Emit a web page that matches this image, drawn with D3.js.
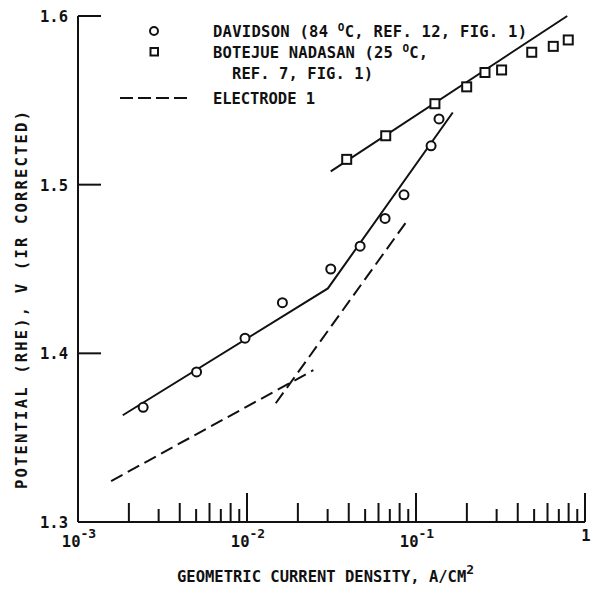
<!DOCTYPE html>
<html>
<head>
<meta charset="utf-8">
<script src="https://cdn.jsdelivr.net/npm/d3@7"></script>
<style>
  body { margin: 0; background: #fff; }
  text { font-family: "DejaVu Sans Mono", monospace; font-weight: bold; fill: #111; }
</style>
</head>
<body>
<div id="chart"></div>
<script>
// Davidson (84 C) points
var davidsonX = [0.00243, 0.00503, 0.00973, 0.0162, 0.0313, 0.0467, 0.0656, 0.0849, 0.1228, 0.1368];
var davidsonY = [1.368, 1.389, 1.409, 1.430, 1.450, 1.4635, 1.480, 1.494, 1.523, 1.539];
// Botejue Nadasan (25 C) points
var botejueX = [0.0389, 0.0662, 0.1294, 0.1995, 0.256, 0.321, 0.484, 0.649, 0.796];
var botejueY = [1.515, 1.529, 1.548, 1.558, 1.5665, 1.568, 1.5785, 1.582, 1.5858];
// fitted solid lines
var davidsonFitX = [0.00184, 0.0301, 0.165];
var davidsonFitY = [1.3633, 1.4385, 1.5428];
var botejueFitX = [0.0313, 0.785];
var botejueFitY = [1.5079, 1.6];
// electrode 1 (dashed), two tafel segments
var electrodeLowX = [0.00157, 0.0247];
var electrodeLowY = [1.3243, 1.39];
var electrodeHighX = [0.0148, 0.0873];
var electrodeHighY = [1.3704, 1.4777];

var yTicks = [1.3, 1.4, 1.5, 1.6];
var yTickLabels = ['1.3', '1.4', '1.5', '1.6'];
var xTicks = [0.001, 0.01, 0.1, 1];
var xTickExp = ['-3', '-2', '-1', ''];

var svg = d3.select('#chart').append('svg')
    .attr('width', 593)
    .attr('height', 589);

var x = d3.scaleLog().domain([0.001, 1]).range([78, 585]);
var y = d3.scaleLinear().domain([1.3, 1.6]).range([522, 16]);

function pairs(xs, ys) {
    return xs.map(function(v, i) { return [v, ys[i]]; });
}

var line = d3.line()
    .x(function(d) { return x(d[0]); })
    .y(function(d) { return y(d[1]); });

// axes
svg.append('line')
    .attr('x1', x(0.001)).attr('x2', x(0.001))
    .attr('y1', y(1.6)).attr('y2', y(1.3))
    .attr('stroke', '#111').attr('stroke-width', 2);
svg.append('line')
    .attr('x1', x(0.001)).attr('x2', x(1))
    .attr('y1', y(1.3)).attr('y2', y(1.3))
    .attr('stroke', '#111').attr('stroke-width', 2);

// y ticks, pointing inward
svg.selectAll('.ytick')
    .data(yTicks.slice(1))
    .enter().append('line')
    .attr('x1', x(0.001)).attr('x2', x(0.001) + 23)
    .attr('y1', function(d) { return y(d); })
    .attr('y2', function(d) { return y(d); })
    .attr('stroke', '#111').attr('stroke-width', 2);

svg.selectAll('.ylabel')
    .data(yTicks)
    .enter().append('text')
    .attr('x', 68)
    .attr('y', function(d) { return y(d) + 6; })
    .attr('text-anchor', 'end')
    .attr('font-size', 15.5)
    .text(function(d, i) { return yTickLabels[i]; });

// x ticks, pointing up; longer on decades and even mantissas
var minor = x.ticks().filter(function(d) { return d > 0.0011; });
svg.selectAll('.xtick')
    .data(minor)
    .enter().append('line')
    .attr('x1', function(d) { return x(d); })
    .attr('x2', function(d) { return x(d); })
    .attr('y1', y(1.3))
    .attr('y2', function(d) {
        var m = Math.round(d / Math.pow(10, Math.floor(Math.log10(d) + 1e-9)));
        var len = m === 1 ? 29 : (m % 2 === 0 ? 19 : 13);
        return y(1.3) - len;
    })
    .attr('stroke', '#111').attr('stroke-width', 2);

svg.selectAll('.xlabel')
    .data(xTicks)
    .enter().append('text')
    .attr('x', function(d) { return x(d) + 1; })
    .attr('y', 547)
    .attr('text-anchor', 'middle')
    .attr('font-size', 15.5)
    .each(function(d, i) {
        var t = d3.select(this);
        if (xTickExp[i] === '') {
            t.attr('y', 541).text('1');
            return;
        }
        t.append('tspan').text('10');
        t.append('tspan').attr('dy', -9).attr('font-size', 13).text(xTickExp[i]);
    });

// axis titles
var xt = svg.append('text')
    .attr('x', 177)
    .attr('y', 582)
    .attr('font-size', 15.5);
xt.append('tspan').text('GEOMETRIC CURRENT DENSITY, A/CM');
xt.append('tspan').attr('dy', -8).attr('font-size', 13).text('2');

svg.append('text')
    .attr('transform', 'translate(27,300) rotate(-90)')
    .attr('text-anchor', 'middle')
    .attr('font-size', 15.5)
    .attr('textLength', 378)
    .text('POTENTIAL (RHE), V (IR CORRECTED)');

// fitted lines
svg.append('path')
    .datum(pairs(davidsonFitX, davidsonFitY))
    .attr('d', line)
    .attr('fill', 'none').attr('stroke', '#111').attr('stroke-width', 2);
svg.append('path')
    .datum(pairs(botejueFitX, botejueFitY))
    .attr('d', line)
    .attr('fill', 'none').attr('stroke', '#111').attr('stroke-width', 2);
[pairs(electrodeLowX, electrodeLowY), pairs(electrodeHighX, electrodeHighY)].forEach(function(seg) {
    svg.append('path')
        .datum(seg)
        .attr('d', line)
        .attr('fill', 'none').attr('stroke', '#111').attr('stroke-width', 2)
        .attr('stroke-dasharray', '13,6');
});

// markers
svg.selectAll('.dav')
    .data(pairs(davidsonX, davidsonY))
    .enter().append('circle')
    .attr('cx', function(d) { return x(d[0]); })
    .attr('cy', function(d) { return y(d[1]); })
    .attr('r', 4.5)
    .attr('fill', '#fff').attr('stroke', '#111').attr('stroke-width', 2);

svg.selectAll('.bot')
    .data(pairs(botejueX, botejueY))
    .enter().append('rect')
    .attr('x', function(d) { return x(d[0]) - 4.5; })
    .attr('y', function(d) { return y(d[1]) - 4.5; })
    .attr('width', 9).attr('height', 9)
    .attr('fill', '#fff').attr('stroke', '#111').attr('stroke-width', 2);

// legend
svg.append('circle')
    .attr('cx', 154).attr('cy', 31).attr('r', 4)
    .attr('fill', '#fff').attr('stroke', '#111').attr('stroke-width', 2);
svg.append('rect')
    .attr('x', 150.5).attr('y', 48).attr('width', 7.5).attr('height', 7.5)
    .attr('fill', '#fff').attr('stroke', '#111').attr('stroke-width', 2);
svg.append('line')
    .attr('x1', 120).attr('x2', 188).attr('y1', 98).attr('y2', 98)
    .attr('stroke', '#111').attr('stroke-width', 2).attr('stroke-dasharray', '13,5');

function degText(sel, before, after) {
    sel.append('tspan').text(before);
    sel.append('tspan').attr('dy', -6).attr('font-size', 11).text('O');
    sel.append('tspan').attr('dy', 6).text(after);
}

var l1 = svg.append('text').attr('x', 213).attr('y', 37).attr('font-size', 15.5)
    .attr('textLength', 314);
degText(l1, 'DAVIDSON (84 ', 'C, REF. 12, FIG. 1)');
var l2 = svg.append('text').attr('x', 213).attr('y', 58).attr('font-size', 15.5)
    .attr('textLength', 215);
degText(l2, 'BOTEJUE NADASAN (25 ', 'C,');
svg.append('text').attr('x', 232).attr('y', 79).attr('font-size', 15.5)
    .attr('textLength', 141).text('REF. 7, FIG. 1)');
svg.append('text').attr('x', 213).attr('y', 104).attr('font-size', 15.5)
    .attr('textLength', 102).text('ELECTRODE 1');
</script>
</body>
</html>
